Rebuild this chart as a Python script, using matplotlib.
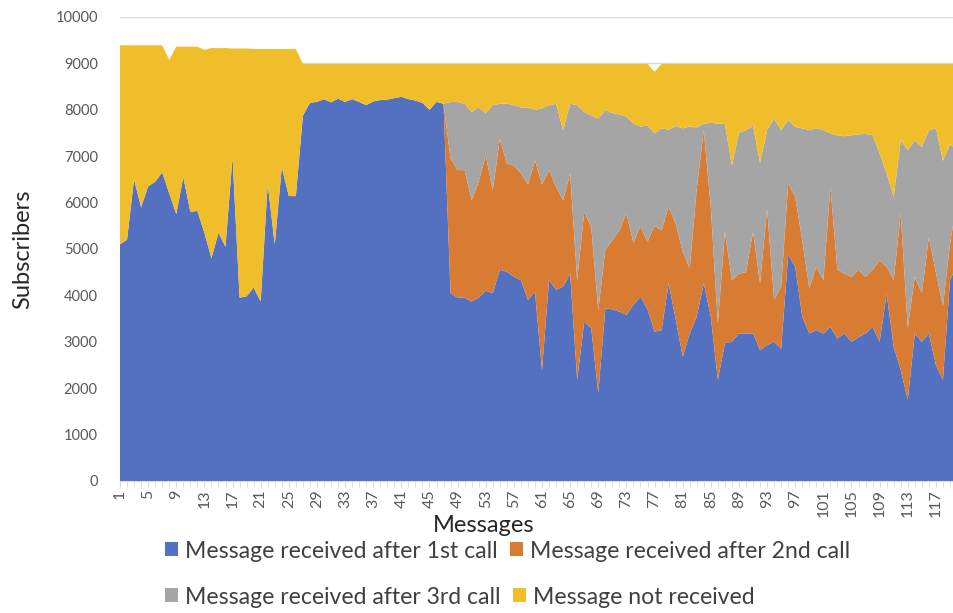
import numpy as np
import matplotlib.pyplot as plt
from matplotlib.patches import Patch

plt.rcParams['font.family'] = ['Lato', 'DejaVu Sans']

# subscribers per message
messages = list(range(1, 121))

after_1st_call = [
    5100, 5200, 6500, 5900, 6350, 6450, 6650, 6200, 5750, 6550,
    5800, 5820, 5350, 4800, 5350, 5050, 6980, 3950, 3980, 4170,
    3870, 6400, 5100, 6760, 6140, 6140, 7870, 8150, 8170, 8230,
    8160, 8240, 8170, 8230, 8170, 8100, 8180, 8210, 8220, 8250,
    8280, 8230, 8200, 8150, 8000, 8170, 8130, 4050, 3950, 3950,
    3870, 3950, 4100, 4050, 4550, 4510, 4400, 4330, 3900, 4080,
    2390, 4330, 4120, 4190, 4470, 2180, 3430, 3290, 1900, 3720,
    3700, 3650, 3580, 3800, 3970, 3700, 3220, 3250, 4260, 3500,
    2680, 3180, 3550, 4260, 3540, 2180, 2970, 3000, 3180, 3180,
    3180, 2820, 2930, 3000, 2850, 4870, 4620, 3540, 3180, 3250,
    3180, 3320, 3070, 3180, 3000, 3100, 3180, 3320, 3000, 4040,
    2890, 2390, 1750, 3180, 3000, 3180, 2500, 2180, 4330, 4650,
]

after_2nd_call = [0] * 47 + [
    2900, 2750, 2750, 2180, 2500, 2920, 2220, 2830, 2330, 2400,
    2300, 2490, 2830, 4000, 2370, 2220, 1860, 2160, 2150, 2370,
    2190, 1780, 1260, 1490, 1750, 2190, 1330, 1530, 1450, 2280,
    2150, 1650, 2050, 2270, 1400, 2750, 3300, 2360, 1220, 2400,
    1330, 1290, 1320, 2190, 1440, 2940, 900, 1340, 1540, 1500,
    1650, 970, 1370, 1150, 3020, 1480, 1290, 1400, 1450, 1220,
    1230, 1750, 580, 1440, 3380, 1550, 1220, 1050, 2080, 2000,
    1580, 770, 1400,
]

after_3rd_call = [0] * 47 + [
    1220, 1470, 1430, 1900, 1610, 900, 1830, 750, 1290, 1300,
    1420, 1660, 1090, 1640, 1400, 1790, 1510, 1500, 3770, 2150,
    2400, 4130, 3010, 2740, 2500, 2080, 2570, 2140, 2510, 1990,
    2200, 1660, 2100, 2650, 3060, 1320, 140, 1820, 4300, 2330,
    2470, 3030, 3060, 2290, 2590, 1690, 3910, 3370, 1370, 1510,
    2410, 3410, 2980, 3230, 1150, 2900, 2960, 3050, 2920, 3080,
    2900, 2310, 2010, 1790, 1570, 3830, 2940, 3150, 2300, 3100,
    3140, 2150, 1100,
]

not_received = [
    4290, 4190, 2890, 3490, 3040, 2940, 2740, 2880, 3610, 2810,
    3560, 3540, 3940, 4530, 3980, 4280, 2340, 5370, 5340, 5140,
    5440, 2910, 4210, 2550, 3170, 3170, 1120, 840, 820, 760,
    830, 750, 820, 760, 820, 890, 810, 780, 770, 740,
    710, 760, 790, 840, 990, 820, 860, 820, 820, 860,
    1040, 930, 1070, 890, 860, 860, 890, 940, 940, 990,
    960, 890, 860, 1430, 860, 890, 1040, 1110, 1180, 1000,
    1060, 1090, 1140, 1290, 1350, 1330, 1330, 1390, 1420, 1340,
    1390, 1350, 1370, 1290, 1270, 1290, 1290, 2190, 1490, 1430,
    1330, 2140, 1430, 1180, 1430, 1210, 1360, 1390, 1430, 1390,
    1430, 1500, 1540, 1560, 1540, 1520, 1510, 1540, 1930, 2360,
    2870, 1650, 1860, 1650, 1790, 1430, 1390, 2090, 1740, 1840,
]

series_labels = ["Message received after 1st call", "Message received after 2nd call",
                 "Message received after 3rd call", "Message not received"]
colors = ["#5471C1", "#D97C33", "#A5A5A5", "#F1BE2B"]
tick_color = "#595959"

fig = plt.figure(figsize=(9.54, 6.13), dpi=100)
ax = fig.add_axes([120 / 954, 1 - 481 / 613, 837 / 954, 464 / 613])

ax.stackplot(messages, after_1st_call, after_2nd_call, after_3rd_call, not_received,
             colors=colors, labels=series_labels, linewidth=0)

ax.set_xlim(1, 120)
ax.set_ylim(0, 10000)
ax.set_yticks(np.arange(0, 10001, 1000))
ax.yaxis.grid(True, color="#D9D9D9", linewidth=1)
ax.set_axisbelow(True)
for side in ["top", "right", "left"]:
    ax.spines[side].set_visible(False)
ax.spines["bottom"].set_color("#D9D9D9")
ax.spines["bottom"].set_zorder(5)

ax.set_xticks(messages[::4])
ax.set_xticklabels([str(m) for m in messages[::4]], rotation=90)
ax.set_xticks(messages, minor=True)
ax.tick_params(axis="x", which="both", length=4, color="#D9D9D9", labelsize=11.5,
               labelcolor=tick_color, pad=2)
ax.tick_params(axis="y", length=0, labelsize=10.5, labelcolor=tick_color, pad=16)

ax.set_ylabel("Subscribers", fontsize=17, color="#262626", labelpad=16)
fig.text(484 / 954, 1 - 525 / 613, "Messages", fontsize=17, color="#262626",
         ha="center", va="center")

handles = [Patch(facecolor=c, edgecolor="none") for c in colors]
leg_kw = dict(frameon=False, ncol=2, fontsize=16.6, handlelength=0.55, handleheight=0.55,
              handletextpad=0.3, columnspacing=0.55, labelcolor="#404040", borderaxespad=0)
fig.legend(handles[:2], series_labels[:2], loc="center left",
           bbox_to_anchor=(156 / 954, 1 - 551 / 613), **leg_kw)
fig.legend(handles[2:], series_labels[2:], loc="center left",
           bbox_to_anchor=(156 / 954, 1 - 597 / 613), **leg_kw)

fig.savefig("out.png", dpi=100)
